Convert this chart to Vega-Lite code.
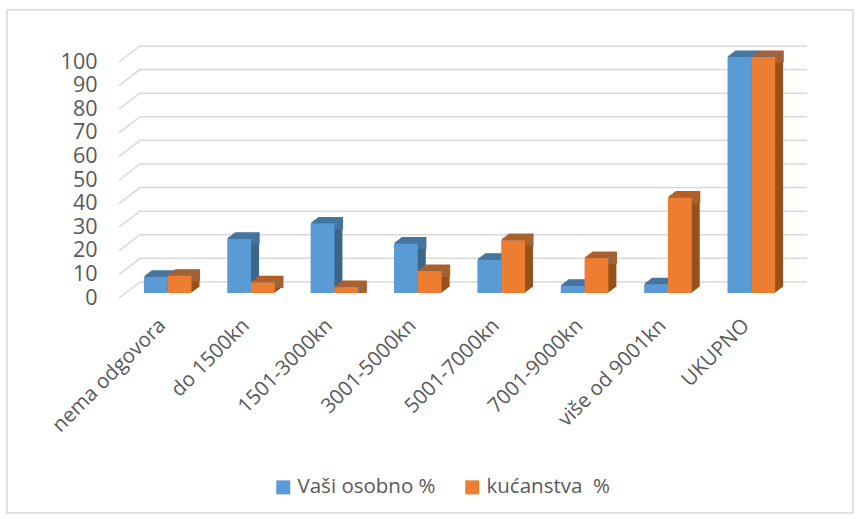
{"$schema":"https://vega.github.io/schema/vega-lite/v6.json","width":688,"height":236,"autosize":{"type":"none"},"padding":{"left":119,"top":62,"right":51,"bottom":221},"background":"#ffffff","config":{"view":{"stroke":null},"font":"Open Sans"},"datasets":{"bars":[{"cat":"nema odgovora","series":"Vaši osobno %","v":6.8},{"cat":"nema odgovora","series":"kućanstva \u00a0%","v":7.3},{"cat":"do 1500kn","series":"Vaši osobno %","v":22.9},{"cat":"do 1500kn","series":"kućanstva \u00a0%","v":4.5},{"cat":"1501-3000kn","series":"Vaši osobno %","v":29.4},{"cat":"1501-3000kn","series":"kućanstva \u00a0%","v":2.5},{"cat":"3001-5000kn","series":"Vaši osobno %","v":20.9},{"cat":"3001-5000kn","series":"kućanstva \u00a0%","v":9.3},{"cat":"5001-7000kn","series":"Vaši osobno %","v":14},{"cat":"5001-7000kn","series":"kućanstva \u00a0%","v":22.4},{"cat":"7001-9000kn","series":"Vaši osobno %","v":3},{"cat":"7001-9000kn","series":"kućanstva \u00a0%","v":14.8},{"cat":"više od 9001kn","series":"Vaši osobno %","v":3.7},{"cat":"više od 9001kn","series":"kućanstva \u00a0%","v":40.4},{"cat":"UKUPNO","series":"Vaši osobno %","v":100},{"cat":"UKUPNO","series":"kućanstva \u00a0%","v":100}],"grid":[{"lvl":0,"pos":0,"g":0},{"lvl":0,"pos":3.05,"g":6.8},{"lvl":0,"pos":100,"g":6.8},{"lvl":10,"pos":0,"g":10},{"lvl":10,"pos":3.05,"g":16.8},{"lvl":10,"pos":100,"g":16.8},{"lvl":20,"pos":0,"g":20},{"lvl":20,"pos":3.05,"g":26.8},{"lvl":20,"pos":100,"g":26.8},{"lvl":30,"pos":0,"g":30},{"lvl":30,"pos":3.05,"g":36.8},{"lvl":30,"pos":100,"g":36.8},{"lvl":40,"pos":0,"g":40},{"lvl":40,"pos":3.05,"g":46.8},{"lvl":40,"pos":100,"g":46.8},{"lvl":50,"pos":0,"g":50},{"lvl":50,"pos":3.05,"g":56.8},{"lvl":50,"pos":100,"g":56.8},{"lvl":60,"pos":0,"g":60},{"lvl":60,"pos":3.05,"g":66.8},{"lvl":60,"pos":100,"g":66.8},{"lvl":70,"pos":0,"g":70},{"lvl":70,"pos":3.05,"g":76.8},{"lvl":70,"pos":100,"g":76.8},{"lvl":80,"pos":0,"g":80},{"lvl":80,"pos":3.05,"g":86.8},{"lvl":80,"pos":100,"g":86.8},{"lvl":90,"pos":0,"g":90},{"lvl":90,"pos":3.05,"g":96.8},{"lvl":90,"pos":100,"g":96.8},{"lvl":100,"pos":0,"g":100},{"lvl":100,"pos":3.05,"g":106.8},{"lvl":100,"pos":100,"g":106.8}],"frame":[{"a":-16.28,"b":106.7,"c":-91.1,"d":122}]},"resolve":{"scale":{"x":"independent"},"axis":{"x":"independent","y":"independent"}},"layer":[{"data":{"name":"frame"},"mark":{"type":"rect","fill":null,"stroke":"#d9d9d9","strokeWidth":1.5,"clip":false},"encoding":{"x":{"field":"a","type":"quantitative","scale":{"domain":[0,100],"nice":false,"zero":false},"axis":null},"x2":{"field":"b"},"y":{"field":"c","type":"quantitative","scale":{"domain":[0,100],"nice":false},"axis":null},"y2":{"field":"d"}}},{"data":{"name":"grid"},"mark":{"type":"line","stroke":"#d9d9d9","strokeWidth":1.5,"interpolate":"linear","clip":false},"encoding":{"x":{"field":"pos","type":"quantitative","scale":{"domain":[0,100],"nice":false,"zero":false},"axis":null},"y":{"field":"g","type":"quantitative","scale":{"domain":[0,100],"nice":false},"axis":null},"detail":{"field":"lvl"},"order":{"field":"pos"}}},{"data":{"name":"bars"},"resolve":{"axis":{"x":"independent","y":"independent"}},"encoding":{"x":{"field":"cat","type":"nominal","sort":null,"scale":{"domain":["nema odgovora","do 1500kn","1501-3000kn","3001-5000kn","5001-7000kn","7001-9000kn","više od 9001kn","UKUPNO"],"range":[0,667],"paddingInner":0.43,"paddingOuter":0.215},"axis":null},"y":{"field":"v","type":"quantitative","scale":{"domain":[0,100],"nice":false},"axis":null}},"layer":[{"transform":[{"filter":"datum.series === 'Vaši osobno %'"}],"resolve":{"axis":{"x":"independent","y":"independent"}},"layer":[{"mark":{"type":"bar","width":23.8,"fill":"#3c6689","xOffset":3.1,"yOffset":-11}},{"mark":{"type":"bar","width":23.8,"stroke":"#44759f","strokeWidth":1.2,"xOffset":3.1,"yOffset":-11},"encoding":{"y2":{"field":"v"}}},{"mark":{"type":"bar","width":23.8,"fill":"#3c6689","xOffset":1.77,"yOffset":-10}},{"mark":{"type":"bar","width":23.8,"stroke":"#44759f","strokeWidth":1.2,"xOffset":1.77,"yOffset":-10},"encoding":{"y2":{"field":"v"}}},{"mark":{"type":"bar","width":23.8,"fill":"#3c6689","xOffset":0.43,"yOffset":-9}},{"mark":{"type":"bar","width":23.8,"stroke":"#44759f","strokeWidth":1.2,"xOffset":0.43,"yOffset":-9},"encoding":{"y2":{"field":"v"}}},{"mark":{"type":"bar","width":23.8,"fill":"#3c6689","xOffset":-0.9,"yOffset":-8}},{"mark":{"type":"bar","width":23.8,"stroke":"#44759f","strokeWidth":1.2,"xOffset":-0.9,"yOffset":-8},"encoding":{"y2":{"field":"v"}}},{"mark":{"type":"bar","width":23.8,"fill":"#3c6689","xOffset":-2.23,"yOffset":-7}},{"mark":{"type":"bar","width":23.8,"stroke":"#44759f","strokeWidth":1.2,"xOffset":-2.23,"yOffset":-7},"encoding":{"y2":{"field":"v"}}},{"mark":{"type":"bar","width":23.8,"fill":"#3c6689","xOffset":-3.57,"yOffset":-6}},{"mark":{"type":"bar","width":23.8,"stroke":"#44759f","strokeWidth":1.2,"xOffset":-3.57,"yOffset":-6},"encoding":{"y2":{"field":"v"}}},{"mark":{"type":"bar","width":23.8,"xOffset":-4.9,"yOffset":-5},"encoding":{"color":{"field":"series","type":"nominal","sort":null,"scale":{"domain":["Vaši osobno %","kućanstva \u00a0%"],"range":["#5b9bd5","#ed7d31"]},"legend":{"title":null,"orient":"none","legendX":154,"legendY":415,"direction":"horizontal","symbolType":"square","symbolSize":196,"symbolStrokeWidth":0,"labelFontSize":20.5,"labelColor":"#595959","labelLimit":300,"columnPadding":26,"symbolOpacity":1}}}}]},{"transform":[{"filter":"datum.series !== 'Vaši osobno %'"}],"resolve":{"axis":{"x":"independent","y":"independent"}},"layer":[{"mark":{"type":"bar","width":23.8,"fill":"#96511d","xOffset":26.9,"yOffset":-11}},{"mark":{"type":"bar","width":23.8,"stroke":"#b55f20","strokeWidth":1.2,"xOffset":26.9,"yOffset":-11},"encoding":{"y2":{"field":"v"}}},{"mark":{"type":"bar","width":23.8,"fill":"#96511d","xOffset":25.57,"yOffset":-10}},{"mark":{"type":"bar","width":23.8,"stroke":"#b55f20","strokeWidth":1.2,"xOffset":25.57,"yOffset":-10},"encoding":{"y2":{"field":"v"}}},{"mark":{"type":"bar","width":23.8,"fill":"#96511d","xOffset":24.23,"yOffset":-9}},{"mark":{"type":"bar","width":23.8,"stroke":"#b55f20","strokeWidth":1.2,"xOffset":24.23,"yOffset":-9},"encoding":{"y2":{"field":"v"}}},{"mark":{"type":"bar","width":23.8,"fill":"#96511d","xOffset":22.9,"yOffset":-8}},{"mark":{"type":"bar","width":23.8,"stroke":"#b55f20","strokeWidth":1.2,"xOffset":22.9,"yOffset":-8},"encoding":{"y2":{"field":"v"}}},{"mark":{"type":"bar","width":23.8,"fill":"#96511d","xOffset":21.57,"yOffset":-7}},{"mark":{"type":"bar","width":23.8,"stroke":"#b55f20","strokeWidth":1.2,"xOffset":21.57,"yOffset":-7},"encoding":{"y2":{"field":"v"}}},{"mark":{"type":"bar","width":23.8,"fill":"#96511d","xOffset":20.23,"yOffset":-6}},{"mark":{"type":"bar","width":23.8,"stroke":"#b55f20","strokeWidth":1.2,"xOffset":20.23,"yOffset":-6},"encoding":{"y2":{"field":"v"}}},{"mark":{"type":"bar","width":23.8,"xOffset":18.9,"yOffset":-5},"encoding":{"color":{"field":"series","type":"nominal","sort":null,"scale":{"domain":["Vaši osobno %","kućanstva \u00a0%"],"range":["#5b9bd5","#ed7d31"]},"legend":{"title":null,"orient":"none","legendX":154,"legendY":415,"direction":"horizontal","symbolType":"square","symbolSize":196,"symbolStrokeWidth":0,"labelFontSize":20.5,"labelColor":"#595959","labelLimit":300,"columnPadding":26,"symbolOpacity":1}}}}]},{"mark":{"type":"bar","fillOpacity":0,"strokeOpacity":0},"encoding":{"x":{"field":"cat","type":"nominal","sort":null,"scale":{"domain":["nema odgovora","do 1500kn","1501-3000kn","3001-5000kn","5001-7000kn","7001-9000kn","više od 9001kn","UKUPNO"],"range":[0,667],"paddingInner":0.43,"paddingOuter":0.215},"axis":{"orient":"bottom","title":null,"domain":false,"ticks":false,"labelAngle":-45,"labelAlign":"right","labelBaseline":"middle","labelFontSize":20.5,"labelColor":"#595959","labelPadding":24,"labelOffset":2,"labelLimit":300,"labelOverlap":false}},"y":{"field":"v","type":"quantitative","scale":{"domain":[0,100],"nice":false},"axis":{"orient":"left","title":null,"domain":false,"ticks":false,"grid":false,"values":[0,10,20,30,40,50,60,70,80,90,100],"labelFontSize":21.5,"labelColor":"#595959","labelPadding":22}}}}]}]}
